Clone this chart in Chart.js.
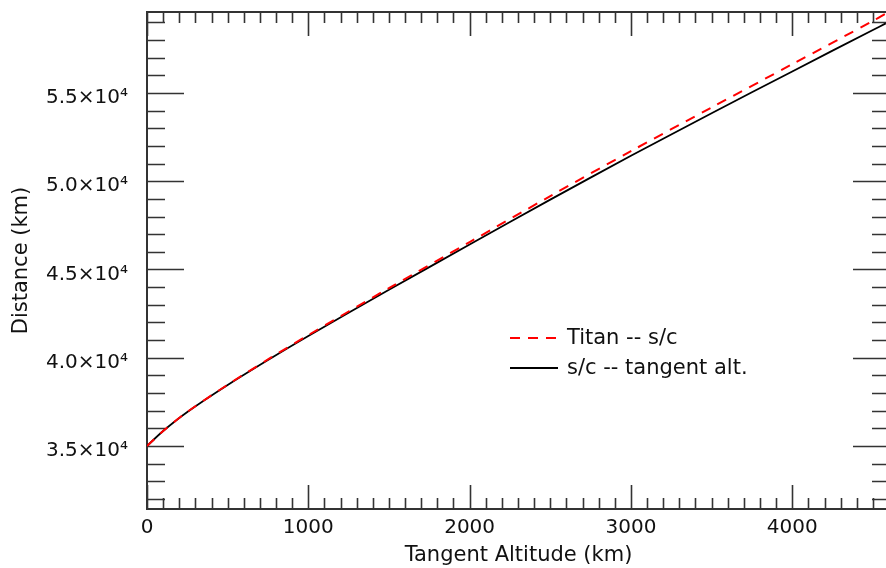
<!DOCTYPE html>
<html>
<head>
<meta charset="utf-8">
<script src="https://cdn.jsdelivr.net/npm/chart.js@4/dist/chart.umd.min.js"></script>
<style>
html,body{margin:0;padding:0;background:#fff;overflow:hidden;}
#wrap{width:892px;height:568px;}
</style>
</head>
<body>
<div id="wrap"><canvas id="c" width="892" height="568"></canvas></div>
<script>
// ---- data ----
const altitude = [0, 100, 250, 500, 750, 1000, 1500, 2000, 2500, 3000, 3500, 4000, 4500, 4580];
const titanToSc = [35000, 35849, 36935, 38474, 39905, 41284, 43945, 46551, 49159, 51705, 54180, 56630, 59080, 59500];
const scToTangent = [35000, 35849, 36925, 38454, 39870, 41229, 43850, 46411, 48959, 51440, 53850, 56220, 58570, 58940];
const seriesNames = ['Titan -- s/c', 's/c -- tangent alt.'];
const xTickValues = [0, 1000, 2000, 3000, 4000];
const xTickLabels = ['0', '1000', '2000', '3000', '4000'];
const yTickValues = [35000, 40000, 45000, 50000, 55000];
const yTickLabels = ['3.5×10⁴', '4.0×10⁴', '4.5×10⁴', '5.0×10⁴', '5.5×10⁴'];
const xRange = [0, 4606];
const yRange = [31432, 59587];
const xTitle = 'Tangent Altitude (km)';
const yTitle = 'Distance (km)';

const FONT = 'DejaVu Sans';
const AXIS = '#333';

const toPts = (xs, ys) => xs.map((v, i) => ({x: v, y: ys[i]}));

const idlFrame = {
  id: 'idlFrame',
  beforeDatasetsDraw(chart) {
    const {ctx, chartArea: a, scales: {x, y}} = chart;
    ctx.save();
    ctx.strokeStyle = AXIS;
    ctx.lineWidth = 1.6;
    ctx.lineCap = 'butt';
    ctx.beginPath();
    for (let v = 0; v <= xRange[1] + 1e-6; v += 100) {
      const px = Math.round(x.getPixelForValue(v)) + 0.5;
      const major = Math.abs(v % 1000) < 1e-6;
      const len = major ? 24 : 11;
      ctx.moveTo(px, a.bottom); ctx.lineTo(px, a.bottom - len);
      ctx.moveTo(px, a.top); ctx.lineTo(px, a.top + len);
    }
    for (let v = Math.ceil(yRange[0] / 1000) * 1000; v <= yRange[1]; v += 1000) {
      const py = Math.round(y.getPixelForValue(v)) + 0.5;
      const major = Math.abs(v % 5000) < 1e-6;
      const len = major ? 37 : 18;
      ctx.moveTo(a.left, py); ctx.lineTo(a.left + len, py);
      ctx.moveTo(a.right, py); ctx.lineTo(a.right - len, py);
    }
    ctx.stroke();
    ctx.lineWidth = 2;
    ctx.strokeRect(a.left, a.top, a.right - a.left, a.bottom - a.top);
    ctx.restore();
  },
  afterDraw(chart) {
    const {ctx} = chart;
    const ds = chart.data.datasets;
    const x0 = 510, x1 = 558, tx = 567;
    const rows = [338, 368];
    ctx.save();
    ctx.font = '21px "' + FONT + '"';
    ctx.textBaseline = 'middle';
    ctx.fillStyle = '#111';
    ds.forEach((d, i) => {
      ctx.beginPath();
      ctx.strokeStyle = d.borderColor;
      ctx.lineWidth = d.borderWidth;
      ctx.setLineDash(d.borderDash || []);
      ctx.moveTo(x0, rows[i]); ctx.lineTo(x1, rows[i]);
      ctx.stroke();
      ctx.setLineDash([]);
      ctx.fillText(d.label, tx, rows[i] + 1);
    });
    ctx.restore();
  }
};

new Chart(document.getElementById('c'), {
  type: 'line',
  data: {
    datasets: [
      {label: seriesNames[0], data: toPts(altitude, titanToSc), borderColor: '#ff0000',
       borderWidth: 2, borderDash: [10, 8], pointRadius: 0, tension: 0.3, fill: false},
      {label: seriesNames[1], data: toPts(altitude, scToTangent), borderColor: '#000000',
       borderWidth: 1.8, pointRadius: 0, tension: 0.3, fill: false}
    ]
  },
  options: {
    responsive: false,
    animation: false,
    devicePixelRatio: 1,
    layout: {padding: {left: 0, top: 12, right: 2, bottom: 0}},
    plugins: {legend: {display: false}, tooltip: {enabled: false}},
    scales: {
      x: {
        type: 'linear', min: xRange[0], max: xRange[1],
        grid: {display: false, drawTicks: false},
        border: {display: false},
        afterBuildTicks: s => { s.ticks = xTickValues.map(v => ({value: v})); },
        afterFit: s => { s.height = 59; s.paddingLeft = 0; s.paddingRight = 0; s.paddingTop = 0; s.paddingBottom = 0; },
        ticks: {
          autoSkip: false, maxRotation: 0, padding: 7, color: '#111',
          font: {family: FONT, size: 20},
          callback: (v) => xTickLabels[xTickValues.indexOf(v)]
        },
        title: {display: true, text: xTitle, color: '#111', font: {family: FONT, size: 21}, padding: {top: 0, bottom: 0}}
      },
      y: {
        type: 'linear', min: yRange[0], max: yRange[1],
        grid: {display: false, drawTicks: false},
        border: {display: false},
        afterBuildTicks: s => { s.ticks = yTickValues.map(v => ({value: v})); },
        afterFit: s => { s.width = 147; s.paddingTop = 0; s.paddingBottom = 0; s.paddingLeft = 0; s.paddingRight = 0; },
        ticks: {
          autoSkip: false, padding: 19, labelOffset: 5, color: '#111',
          font: {family: FONT, size: 20},
          callback: (v) => yTickLabels[yTickValues.indexOf(v)]
        },
        title: {display: true, text: yTitle, color: '#111', font: {family: FONT, size: 21}, padding: {top: 9, bottom: 0}}
      }
    }
  },
  plugins: [idlFrame]
});
</script>
</body>
</html>
